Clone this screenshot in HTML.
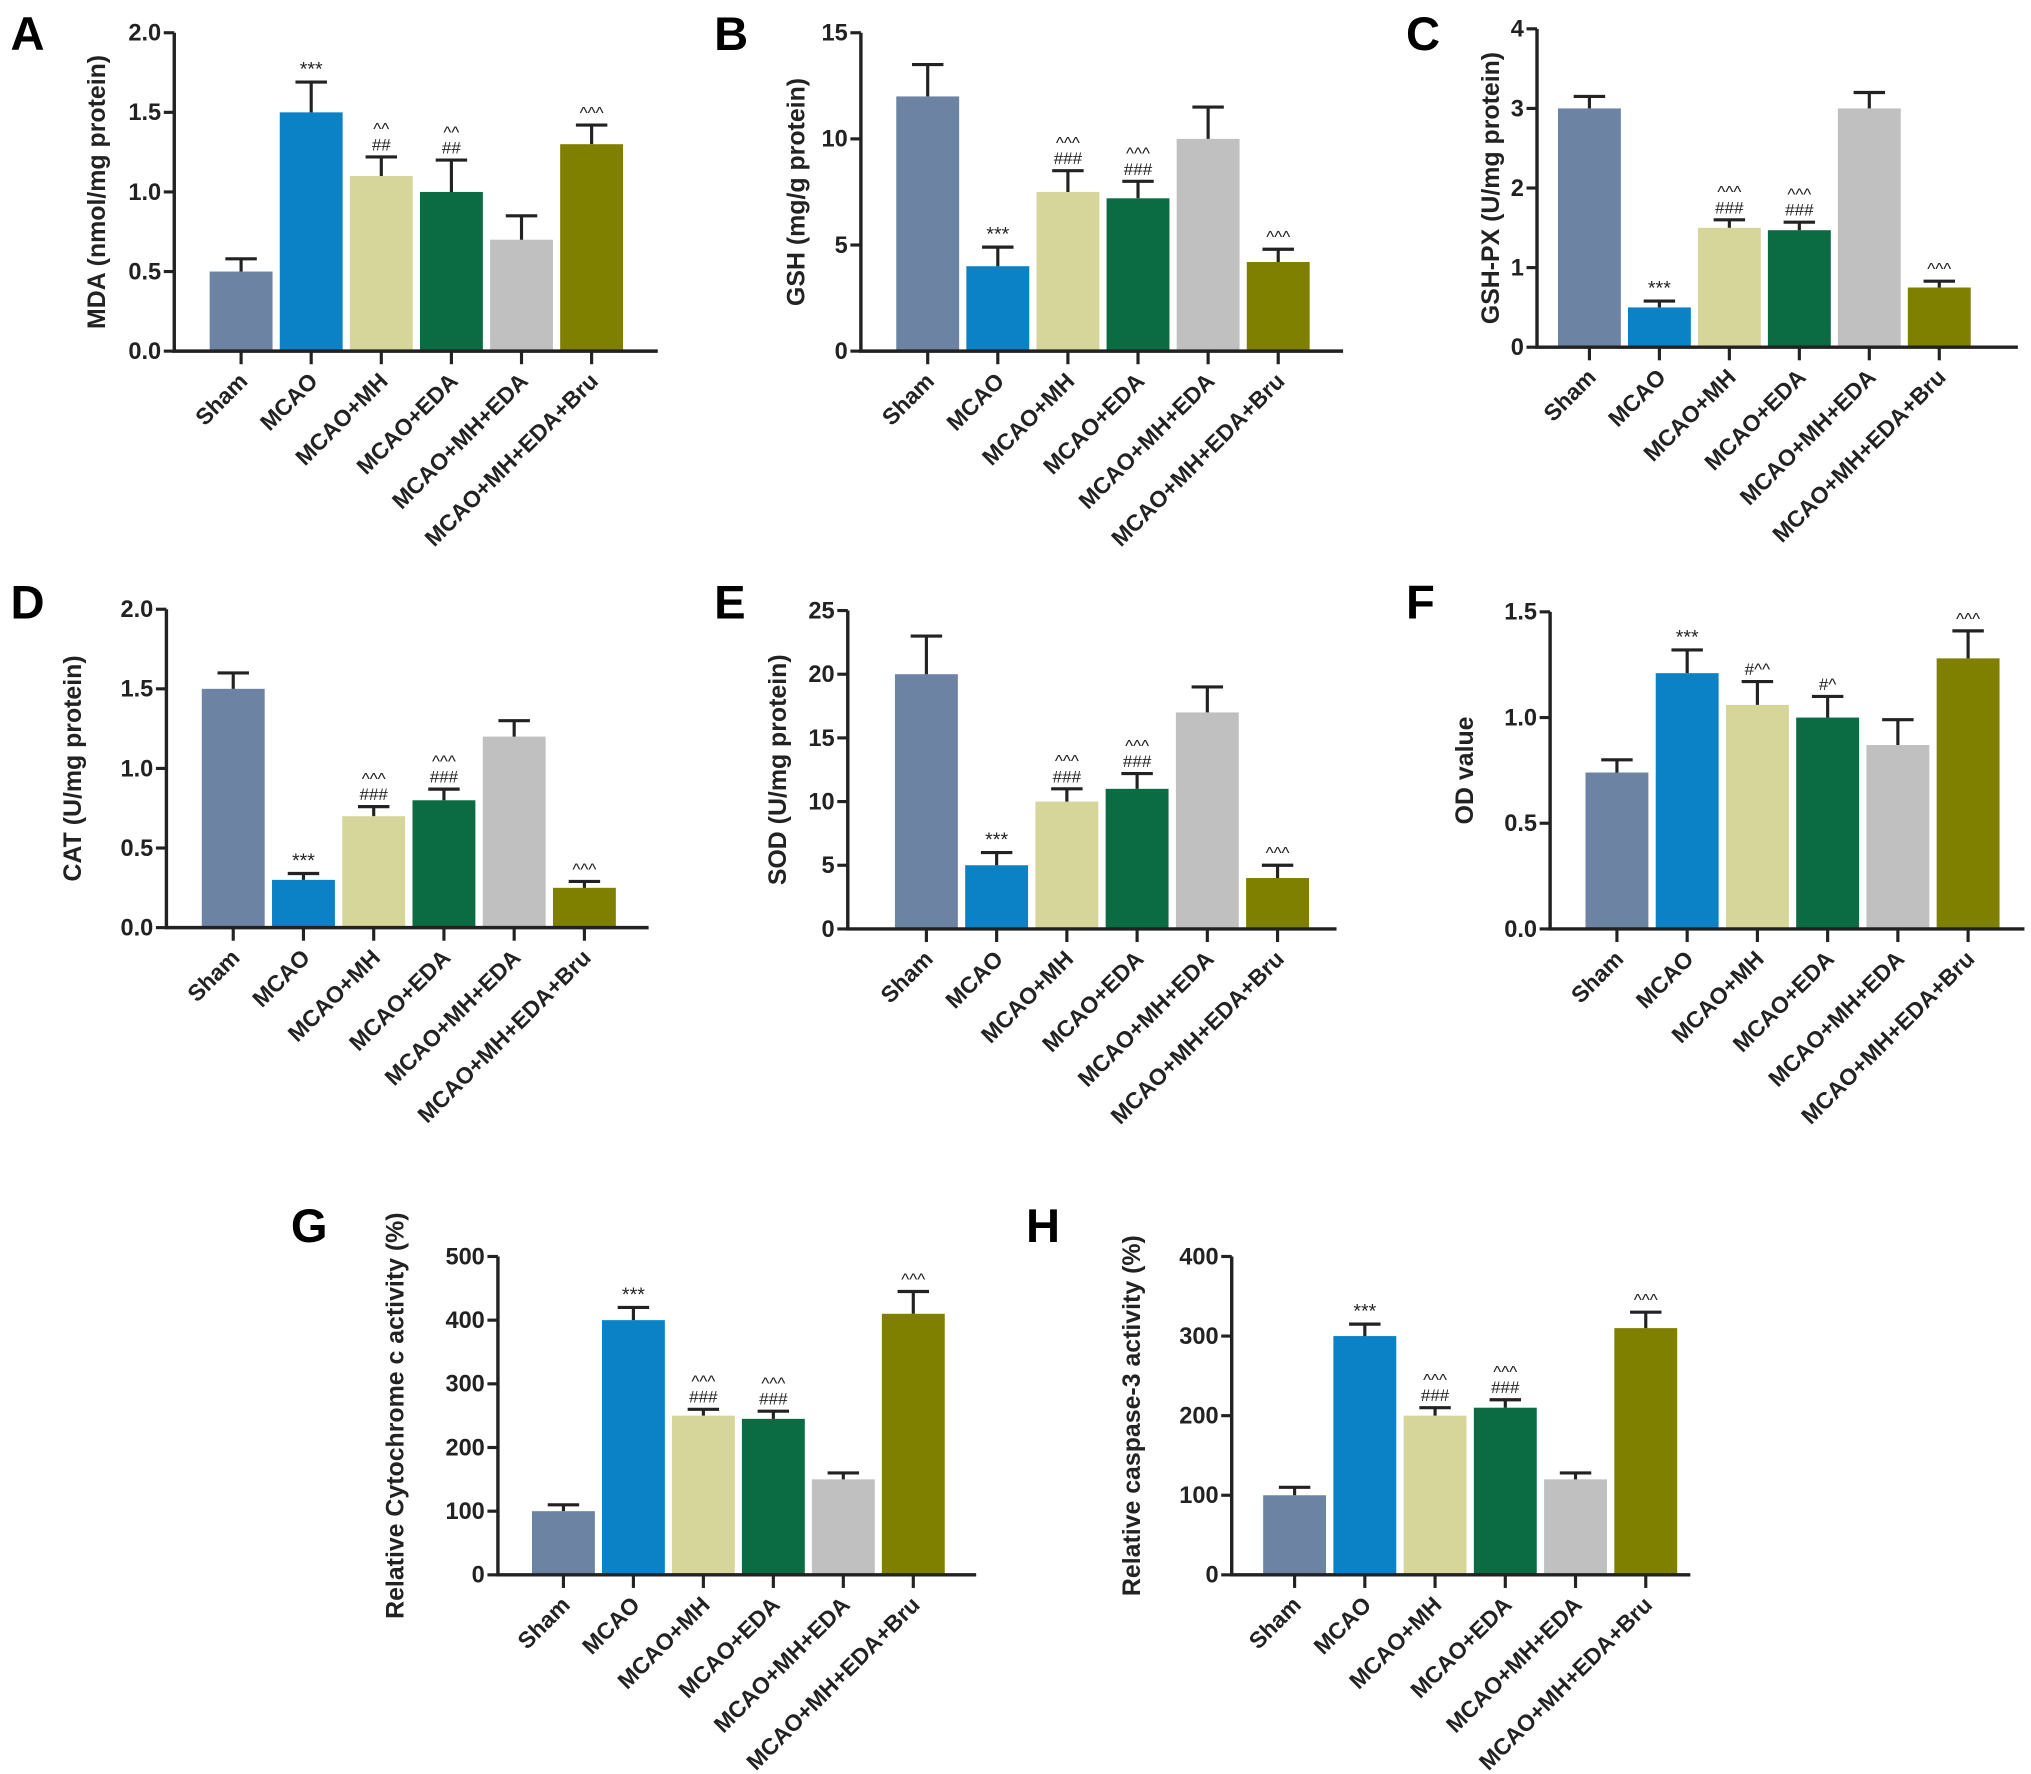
<!DOCTYPE html>
<html><head><meta charset="utf-8"><style>
html,body{margin:0;padding:0;background:#fff;}
svg{display:block;font-family:"Liberation Sans",Arial,sans-serif;}
</style></head><body>
<svg id="fig" width="2031" height="1774" viewBox="0 0 1550 1354" preserveAspectRatio="none" xmlns="http://www.w3.org/2000/svg"></svg>
<script>
const categories = ["Sham","MCAO","MCAO+MH","MCAO+EDA","MCAO+MH+EDA","MCAO+MH+EDA+Bru"];
const colors = ["#6d83a4","#0a82c5","#d6d59a","#0b6b43","#c0c0c0","#808000"];

const mdaValues = [0.5,1.5,1.1,1.0,0.7,1.3];
const mdaErrors = [0.08,0.19,0.12,0.2,0.15,0.12];
const mdaMarks = [["***"],["^^","##"],["^^","##"],[],["^^^"]];
const mdaTicks = [0,0.5,1.0,1.5,2.0];

const gshValues = [12,4,7.5,7.2,10,4.2];
const gshErrors = [1.5,0.9,1.0,0.8,1.5,0.6];
const gshTicks = [0,5,10,15];

const gpxValues = [3,0.5,1.5,1.47,3,0.75];
const gpxErrors = [0.15,0.08,0.1,0.1,0.2,0.08];
const gpxTicks = [0,1,2,3,4];

const catValues = [1.5,0.3,0.7,0.8,1.2,0.25];
const catErrors = [0.1,0.04,0.06,0.07,0.1,0.04];
const catTicks = [0,0.5,1.0,1.5,2.0];

const sodValues = [20,5,10,11,17,4];
const sodErrors = [3,1,1,1.2,2,1];
const sodTicks = [0,5,10,15,20,25];

const odValues = [0.74,1.21,1.06,1.0,0.87,1.28];
const odErrors = [0.06,0.11,0.11,0.1,0.12,0.13];
const odMarks = [["***"],["#^^"],["#^"],[],["^^^"]];
const odTicks = [0,0.5,1.0,1.5];

const cytValues = [100,400,250,245,150,410];
const cytErrors = [10,20,10,12,10,35];
const cytTicks = [0,100,200,300,400,500];

const casValues = [100,300,200,210,120,310];
const casErrors = [10,15,10,10,8,20];
const casTicks = [0,100,200,300,400];

const stdMarks = [[],["***"],["^^^","###"],["^^^","###"],[],["^^^"]];
const fixMarks = m => [[]].concat(m);

const panels = [
 {id:"a",letter:"A",lx:8,ly:38,ax:133,xEnd:502,c0:184,step:53.5,y0:268,yTop:25,ticks:mdaTicks,vals:mdaValues,errs:mdaErrors,marks:fixMarks(mdaMarks),title:"MDA (nmol/mg protein)",tx:80,dec:1},
 {id:"b",letter:"B",lx:545,ly:38,ax:657,xEnd:1025,c0:708,step:53.5,y0:268,yTop:25,ticks:gshTicks,vals:gshValues,errs:gshErrors,marks:stdMarks,title:"GSH (mg/g protein)",tx:614,dec:0},
 {id:"c",letter:"C",lx:1073,ly:38,ax:1173,xEnd:1540,c0:1213,step:53.4,y0:265,yTop:22,ticks:gpxTicks,vals:gpxValues,errs:gpxErrors,marks:stdMarks,title:"GSH-PX (U/mg protein)",tx:1144,dec:0},
 {id:"d",letter:"D",lx:8,ly:472,ax:127,xEnd:495,c0:178,step:53.6,y0:708,yTop:465,ticks:catTicks,vals:catValues,errs:catErrors,marks:stdMarks,title:"CAT (U/mg protein)",tx:62,dec:1},
 {id:"e",letter:"E",lx:545,ly:472,ax:647,xEnd:1020,c0:707,step:53.6,y0:709,yTop:466,ticks:sodTicks,vals:sodValues,errs:sodErrors,marks:stdMarks,title:"SOD (U/mg protein)",tx:600,dec:0},
 {id:"f",letter:"F",lx:1073,ly:472,ax:1183,xEnd:1545,c0:1234,step:53.6,y0:709,yTop:467,ticks:odTicks,vals:odValues,errs:odErrors,marks:fixMarks(odMarks),title:"OD value",tx:1124,dec:1},
 {id:"g",letter:"G",lx:222,ly:948,ax:380,xEnd:745,c0:430,step:53.4,y0:1202,yTop:959,ticks:cytTicks,vals:cytValues,errs:cytErrors,marks:stdMarks,title:"Relative Cytochrome c activity (%)",tx:308,dec:0},
 {id:"h",letter:"H",lx:783,ly:948,ax:940,xEnd:1290,c0:988,step:53.6,y0:1202,yTop:959,ticks:casTicks,vals:casValues,errs:casErrors,marks:stdMarks,title:"Relative caspase-3 activity (%)",tx:870,dec:0}
];

const NS="http://www.w3.org/2000/svg";
const svg=document.getElementById("fig");
function mk(tag,attrs,parent){const e=document.createElementNS(NS,tag);for(const k in attrs)e.setAttribute(k,attrs[k]);(parent||svg).appendChild(e);return e;}

panels.forEach(p=>{
  const g=mk("g",{});
  
  
  const maxV=p.ticks[p.ticks.length-1];
  const yS=v=>p.y0-(v/maxV)*(p.y0-p.yTop);
  const xS=i=>p.c0+i*p.step;
  const bw=48;
  const L=mk("text",{x:p.lx,y:p.ly,"font-size":36,"font-weight":"bold",fill:"#000"},g);
  L.textContent=p.letter;
  
  
  p.vals.forEach((v,i)=>{
    const r=mk("rect",{x:xS(i)-bw/2,y:yS(v),width:bw,height:p.y0-yS(v),fill:colors[i]},g);
    
    
    const top=yS(v+p.errs[i]);
    const e=mk("path",{d:`M${xS(i)},${yS(v)}V${top}M${xS(i)-12},${top}H${xS(i)+12}`,stroke:"#222","stroke-width":2.4,fill:"none"},g);
    
    
    const m=p.marks[i]||[];
    m.forEach((s,j)=>{
      const yy=top-5-(m.length-1-j)*12;
      const t=mk("text",{x:xS(i),y:yy,"font-size":s.indexOf("*")>=0?15:13,"text-anchor":"middle",fill:"#222"},g);
      t.textContent=s;
      
      
    });
  });
  const ax=mk("path",{d:`M${p.ax},${p.yTop}V${p.y0}H${p.xEnd}`,stroke:"#222","stroke-width":2.6,fill:"none"},g);
  
  
  p.ticks.forEach(tv=>{
    const y=yS(tv);
    mk("line",{x1:p.ax-8,x2:p.ax,y1:y,y2:y,stroke:"#222","stroke-width":2.4},g);
    const t=mk("text",{x:p.ax-10,y:y+6,"font-size":18,"font-weight":"bold","text-anchor":"end",fill:"#222"},g);
    t.textContent=tv.toFixed(p.dec);
    
    
  });
  categories.forEach((c,i)=>{
    const x=xS(i);
    mk("line",{x1:x,x2:x,y1:p.y0,y2:p.y0+10,stroke:"#222","stroke-width":2.4},g);
    const t=mk("text",{x:x+6,y:p.y0+24,"font-size":17.5,"font-weight":"bold","text-anchor":"end",fill:"#222",transform:`rotate(-45 ${x+6} ${p.y0+24})`},g);
    t.textContent=c;
    
    
  });
  const cy=(p.y0+p.yTop)/2;
  const tt=mk("text",{x:p.tx,y:cy,"font-size":19,"font-weight":"bold","text-anchor":"middle",fill:"#222",transform:`rotate(-90 ${p.tx} ${cy})`},g);
  tt.textContent=p.title;
  
  
});
</script>
</body></html>
